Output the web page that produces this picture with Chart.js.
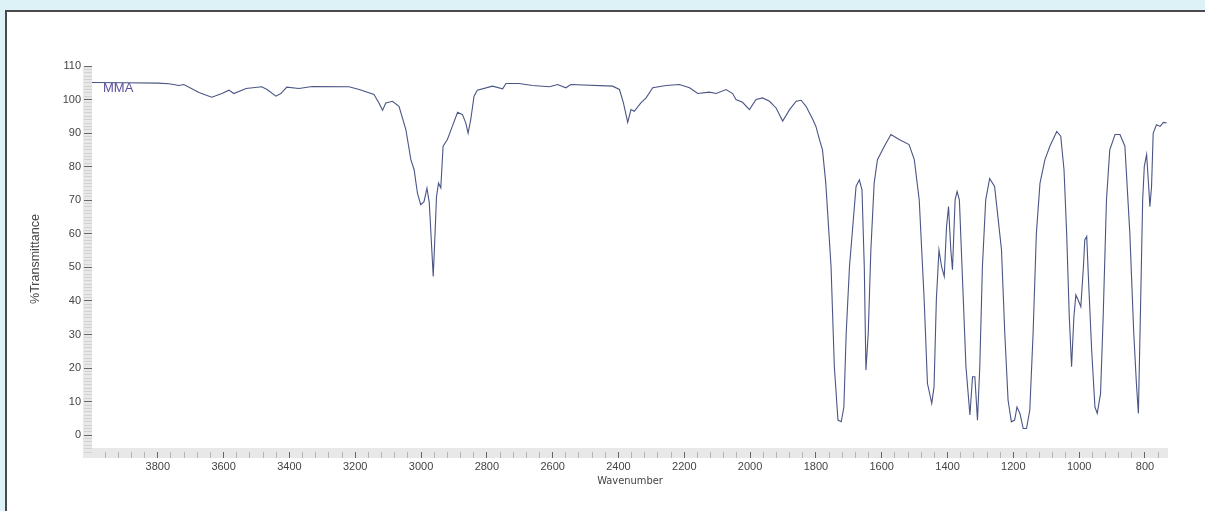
<!DOCTYPE html>
<html lang="en">
<head>
    <meta charset="UTF-8">
    <title>MMA IR Spectrum</title>
    <style>
        body {
            margin: 0;
            width: 1205px;
            height: 511px;
            overflow: hidden;
            background-color: #dcf2f7;
            font-family: "Liberation Sans", Arial, sans-serif;
        }

        .frame {
            position: absolute;
            left: 5px;
            top: 10px;
            width: 1198px;
            height: 505px;
            background-color: #ffffff;
            border-left: 2px solid #4a4a4a;
            border-top: 2px solid #4a4a4a;
        }

        #irChart {
            position: absolute;
            left: 0;
            top: 0;
        }
    </style>
</head>
<body>

<div class="frame"></div>
<canvas id="irChart" width="1205" height="511"></canvas>

<script src="https://cdn.jsdelivr.net/npm/chart.js"></script>
<script>
    // Wavenumber (cm-1) and %Transmittance
    const wavenumbers = [
        4000, 3900, 3800, 3766, 3736, 3721, 3675, 3636, 3605, 3584,
        3569, 3532, 3484, 3468, 3441, 3426, 3408, 3371, 3331, 3219,
        3188, 3143, 3128, 3117, 3107, 3087, 3067, 3046, 3031, 3021,
        3011, 3001, 2991, 2982, 2975, 2970, 2963, 2957, 2953, 2947,
        2940, 2933, 2920, 2905, 2889, 2874, 2864, 2857, 2849, 2839,
        2829, 2783, 2752, 2742, 2702, 2661, 2610, 2585, 2560, 2545,
        2418, 2397, 2385, 2372, 2362, 2352, 2332, 2316, 2296, 2255,
        2215, 2184, 2159, 2124, 2103, 2073, 2053, 2043, 2023, 2002,
        1982, 1962, 1941, 1921, 1901, 1880, 1860, 1845, 1830, 1809,
        1800, 1789, 1780, 1770, 1754, 1744, 1733, 1723, 1715, 1708,
        1698, 1688, 1678, 1668, 1660, 1653, 1648, 1641, 1633, 1623,
        1613, 1592, 1572, 1547, 1517, 1501, 1486, 1471, 1461, 1448,
        1441, 1434, 1426, 1418, 1410, 1403, 1397, 1390, 1385, 1377,
        1371, 1364, 1354, 1344, 1332, 1324, 1317, 1309, 1302, 1294,
        1284, 1272, 1257, 1247, 1236, 1226, 1216, 1206, 1196, 1189,
        1180, 1170, 1160, 1150, 1140, 1130, 1119, 1104, 1089, 1068,
        1056, 1046, 1038, 1030, 1023, 1016, 1010, 1003, 995, 987,
        983, 977, 972, 962, 952, 945, 935, 927, 917, 907,
        891, 876, 861, 846, 834, 826, 820, 813, 807, 802,
        795, 790, 785, 780, 775, 765, 754, 744, 734
    ];

    const transmittance = [
        105.1, 105.0, 104.9, 104.7, 104.2, 104.5, 102.1, 100.7, 101.8, 102.8,
        101.8, 103.3, 103.8, 103.0, 101.0, 101.8, 103.7, 103.3, 103.9, 103.8,
        103.0, 101.5, 99.0, 96.8, 99.0, 99.5, 98.0, 91.0, 82.1, 79.1,
        72.1, 68.7, 69.6, 73.6, 69.3, 60.2, 47.3, 61.2, 71.1, 75.1,
        73.7, 86.1, 88.1, 92.0, 96.2, 95.5, 93.0, 90.0, 94.0, 101.0,
        102.8, 104.0, 103.2, 104.8, 104.8, 104.2, 103.8, 104.5, 103.5, 104.5,
        104.0, 103.0, 99.0, 93.2, 97.0, 96.5, 99.0, 100.5, 103.5, 104.2,
        104.5, 103.5, 101.8, 102.2, 101.8, 103.0, 101.8, 100.0, 99.2, 97.0,
        100.0, 100.5, 99.5, 97.5, 93.6, 97.0, 99.5, 99.8, 98.0, 94.0,
        92.0, 88.0, 85.0, 75.1, 50.2, 20.4, 4.5, 4.0, 8.4, 30.3,
        50.2, 62.2, 74.1, 76.1, 73.1, 50.2, 19.4, 30.3, 55.2, 75.1,
        82.1, 86.1, 89.6, 88.1, 86.6, 82.1, 70.1, 40.3, 15.4, 9.5,
        14.4, 40.3, 55.2, 50.2, 47.3, 62.2, 68.1, 55.2, 49.3, 70.1,
        72.6, 70.1, 45.3, 20.4, 6.0, 17.4, 17.4, 4.5, 20.4, 50.2,
        70.1, 76.5, 74.1, 65.2, 55.2, 30.3, 10.4, 4.0, 4.5, 8.4,
        6.5, 2.0, 2.0, 7.5, 30.3, 60.2, 75.1, 82.1, 86.1, 90.5,
        89.1, 79.1, 60.2, 35.3, 20.4, 35.3, 41.8, 40.3, 38.3, 50.2,
        58.2, 59.2, 47.3, 25.4, 8.4, 6.5, 12.4, 35.3, 70.1, 85.0,
        89.6, 89.6, 86.1, 60.2, 30.3, 15.4, 6.5, 40.3, 70.1, 80.1,
        83.6, 76.1, 68.1, 74.1, 90.0, 92.5, 92.0, 93.2, 93.0
    ];

    // Labelled ticks
    const xTickLabels = [3800, 3600, 3400, 3200, 3000, 2800, 2600, 2400, 2200, 2000, 1800, 1600, 1400, 1200, 1000, 800];
    const yTickLabels = [0, 10, 20, 30, 40, 50, 60, 70, 80, 90, 100, 110];

    const seriesName = 'MMA';

    const tickFont = { family: 'Liberation Sans', size: 11 };
    const narrowFont = { family: '"Liberation Sans Narrow", "DejaVu Sans Condensed", "Liberation Sans"', size: 11 };

    // Grey ruler strips along both axes + the sample name in the plot
    const rulerPlugin = {
        id: 'rulers',
        beforeDraw(chart) {
            const { ctx, chartArea, scales } = chart;
            ctx.save();
            ctx.fillStyle = '#e8e8e8';
            ctx.fillRect(scales.y.right - 9, chartArea.top, 9, chartArea.bottom - chartArea.top + 6);
            ctx.fillRect(chartArea.left, chartArea.bottom - 4, chartArea.right - chartArea.left, 10);
            ctx.restore();
        },
        afterDraw(chart) {
            const { ctx, chartArea, scales } = chart;
            ctx.save();
            ctx.fillStyle = '#5b4f9c';
            ctx.font = '13px "Liberation Sans", Arial, sans-serif';
            ctx.textBaseline = 'middle';
            ctx.fillText(seriesName, chartArea.left + 11, scales.y.getPixelForValue(103.3));
            ctx.restore();
        }
    };

    const config = {
        type: 'line',
        data: {
            datasets: [{
                label: seriesName,
                data: wavenumbers.map((w, i) => ({ x: w, y: transmittance[i] })),
                borderColor: '#4a5585',
                borderWidth: 1.1,
                pointRadius: 0,
                tension: 0,
                fill: false
            }]
        },
        options: {
            responsive: false,
            animation: false,
            layout: {
                padding: { left: 0, top: 66, right: 37, bottom: 0 }
            },
            plugins: {
                legend: { display: false },
                tooltip: { enabled: false }
            },
            scales: {
                x: {
                    type: 'linear',
                    reverse: true,
                    min: 730,
                    max: 4000,
                    afterBuildTicks: scale => {
                        const t = [];
                        for (let v = 760; v <= 3960; v += 40) t.push({ value: v });
                        scale.ticks = t;
                    },
                    afterFit: scale => { scale.height = 59; },
                    ticks: {
                        autoSkip: false,
                        maxRotation: 0,
                        padding: 2,
                        color: '#444',
                        font: tickFont,
                        callback: v => xTickLabels.includes(v) ? String(v) : ''
                    },
                    grid: {
                        drawOnChartArea: false,
                        tickLength: 6,
                        color: c => xTickLabels.includes(c.tick && c.tick.value) ? '#666' : '#b5b5b5'
                    },
                    border: { display: false },
                    title: {
                        display: true,
                        text: 'Wavenumber',
                        color: '#444',
                        font: narrowFont,
                        padding: { top: 0, bottom: 23 }
                    }
                },
                y: {
                    min: -5,
                    max: 110,
                    afterBuildTicks: scale => {
                        const t = [];
                        for (let v = -5; v <= 110; v += 1) t.push({ value: v });
                        scale.ticks = t;
                    },
                    afterFit: scale => { scale.width = 92; },
                    ticks: {
                        autoSkip: false,
                        padding: 3,
                        color: '#444',
                        font: tickFont,
                        callback: v => yTickLabels.includes(v) ? String(v) : ''
                    },
                    grid: {
                        drawOnChartArea: false,
                        tickLength: 8,
                        color: c => yTickLabels.includes(c.tick && c.tick.value) ? '#666' : '#d2d2d2'
                    },
                    border: { display: false },
                    title: {
                        display: true,
                        text: '%Transmittance',
                        color: '#444',
                        font: { family: 'Liberation Sans', size: 12.5 },
                        padding: { top: 28, bottom: 0 }
                    }
                }
            }
        },
        plugins: [rulerPlugin]
    };

    const irChart = new Chart(document.getElementById('irChart'), config);
</script>

</body>
</html>
